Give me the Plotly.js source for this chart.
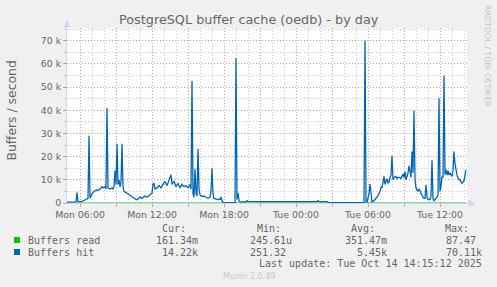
<!DOCTYPE html>
<html>
<head>
<meta charset="utf-8">
<script src="https://cdn.plot.ly/plotly-3.0.1.min.js"></script>
<style>
html,body{margin:0;padding:0;background:#F0F0F0;}
#chart{width:497px;height:287px;}
</style>
</head>
<body>
<div id="chart"></div>
<script>
// ---- data (5-minute samples) ----
const hitTimes = [
"2025-10-13 04:55","2025-10-13 05:10","2025-10-13 05:30","2025-10-13 05:40","2025-10-13 05:45","2025-10-13 05:50",
"2025-10-13 06:10","2025-10-13 06:20","2025-10-13 06:30","2025-10-13 06:40","2025-10-13 06:45","2025-10-13 06:50",
"2025-10-13 06:55","2025-10-13 07:00","2025-10-13 07:10","2025-10-13 07:20","2025-10-13 07:30","2025-10-13 07:40",
"2025-10-13 07:50","2025-10-13 07:55","2025-10-13 08:05","2025-10-13 08:10","2025-10-13 08:15","2025-10-13 08:20",
"2025-10-13 08:30","2025-10-13 08:40","2025-10-13 08:45","2025-10-13 08:50","2025-10-13 08:55","2025-10-13 09:00",
"2025-10-13 09:05","2025-10-13 09:10","2025-10-13 09:15","2025-10-13 09:20","2025-10-13 09:25","2025-10-13 09:30",
"2025-10-13 09:35","2025-10-13 09:40","2025-10-13 09:50","2025-10-13 10:00","2025-10-13 10:10","2025-10-13 10:20",
"2025-10-13 10:30","2025-10-13 10:40","2025-10-13 10:45","2025-10-13 10:55","2025-10-13 11:00","2025-10-13 11:10",
"2025-10-13 11:20","2025-10-13 11:25","2025-10-13 11:35","2025-10-13 11:40","2025-10-13 11:50","2025-10-13 12:00",
"2025-10-13 12:05","2025-10-13 12:10","2025-10-13 12:15","2025-10-13 12:25","2025-10-13 12:35","2025-10-13 12:45",
"2025-10-13 12:55","2025-10-13 13:05","2025-10-13 13:15","2025-10-13 13:25","2025-10-13 13:35","2025-10-13 13:40",
"2025-10-13 13:50","2025-10-13 14:00","2025-10-13 14:10","2025-10-13 14:20","2025-10-13 14:30","2025-10-13 14:40",
"2025-10-13 14:50","2025-10-13 15:00","2025-10-13 15:10","2025-10-13 15:15","2025-10-13 15:20","2025-10-13 15:25",
"2025-10-13 15:30","2025-10-13 15:35","2025-10-13 15:40","2025-10-13 15:45","2025-10-13 15:50","2025-10-13 15:55",
"2025-10-13 16:00","2025-10-13 16:10","2025-10-13 16:20","2025-10-13 16:30","2025-10-13 16:40","2025-10-13 16:50",
"2025-10-13 16:55","2025-10-13 17:00","2025-10-13 17:05","2025-10-13 17:10","2025-10-13 17:20","2025-10-13 17:30",
"2025-10-13 17:40","2025-10-13 17:45","2025-10-13 17:50","2025-10-13 17:55","2025-10-13 18:10","2025-10-13 18:30",
"2025-10-13 18:50","2025-10-13 18:55","2025-10-13 19:00","2025-10-13 19:05","2025-10-13 19:10","2025-10-13 19:15",
"2025-10-13 19:20","2025-10-13 19:40","2025-10-13 19:50","2025-10-13 19:55","2025-10-13 20:00","2025-10-13 21:00",
"2025-10-13 22:40","2025-10-14 00:20","2025-10-14 01:45","2025-10-14 01:50","2025-10-14 01:55","2025-10-14 02:35",
"2025-10-14 02:40","2025-10-14 03:40","2025-10-14 04:55","2025-10-14 05:40","2025-10-14 05:45","2025-10-14 05:50",
"2025-10-14 05:55","2025-10-14 06:05","2025-10-14 06:10","2025-10-14 06:15","2025-10-14 06:20","2025-10-14 06:30",
"2025-10-14 06:35","2025-10-14 06:45","2025-10-14 06:50","2025-10-14 07:00","2025-10-14 07:05","2025-10-14 07:10",
"2025-10-14 07:15","2025-10-14 07:20","2025-10-14 07:25","2025-10-14 07:30","2025-10-14 07:35","2025-10-14 07:40",
"2025-10-14 07:45","2025-10-14 07:50","2025-10-14 07:55","2025-10-14 08:00","2025-10-14 08:05","2025-10-14 08:10",
"2025-10-14 08:20","2025-10-14 08:25","2025-10-14 08:30","2025-10-14 08:40","2025-10-14 08:45","2025-10-14 08:50",
"2025-10-14 08:55","2025-10-14 09:00","2025-10-14 09:05","2025-10-14 09:10","2025-10-14 09:20","2025-10-14 09:25",
"2025-10-14 09:30","2025-10-14 09:35","2025-10-14 09:40","2025-10-14 09:45","2025-10-14 09:50","2025-10-14 09:55",
"2025-10-14 10:00","2025-10-14 10:05","2025-10-14 10:10","2025-10-14 10:15","2025-10-14 10:20","2025-10-14 10:25",
"2025-10-14 10:30","2025-10-14 10:35","2025-10-14 10:40","2025-10-14 10:45","2025-10-14 10:50","2025-10-14 10:55",
"2025-10-14 11:00","2025-10-14 11:10","2025-10-14 11:15","2025-10-14 11:20","2025-10-14 11:25","2025-10-14 11:30",
"2025-10-14 11:35","2025-10-14 11:40","2025-10-14 11:45","2025-10-14 11:50","2025-10-14 11:55","2025-10-14 12:00",
"2025-10-14 12:05","2025-10-14 12:10","2025-10-14 12:15","2025-10-14 12:20","2025-10-14 12:25","2025-10-14 12:30",
"2025-10-14 12:35","2025-10-14 12:40","2025-10-14 12:45","2025-10-14 12:50","2025-10-14 12:55","2025-10-14 13:00",
"2025-10-14 13:05","2025-10-14 13:10","2025-10-14 13:15","2025-10-14 13:20","2025-10-14 13:25","2025-10-14 13:30",
"2025-10-14 13:35","2025-10-14 13:40","2025-10-14 13:45","2025-10-14 13:50","2025-10-14 13:55","2025-10-14 14:00",
"2025-10-14 14:05","2025-10-14 14:10"
];
const hitValues = [
400,400,400,500,4500,600,
700,1000,1500,2000,29000,2000,
3000,4000,5000,5500,5500,6000,
7000,6500,7000,6000,41000,6500,
6000,6500,6000,7000,14000,8000,
25500,8000,10000,7000,9000,25500,
7000,5000,4500,4000,3500,3000,
2200,1500,1400,2200,2600,2000,
2600,3000,2500,2800,3500,4200,
8200,8600,6000,6500,7500,6500,
8000,9300,7500,10000,12200,8000,
9500,7000,8500,6500,8000,7000,
7500,6500,8000,6000,52700,4000,
2500,14800,4400,3000,23400,6000,
3500,2800,3000,2500,2000,2500,
5000,15000,4000,2000,1600,1500,
1600,2600,1000,300,200,200,
200,300,62500,1500,4300,1000,
500,400,500,1000,700,600,
600,600,600,1100,600,600,
200,200,200,300,70100,600,
400,4000,8200,3000,500,1000,
1500,2500,3200,5000,7000,6500,
8500,11500,8000,9000,10500,8500,
9000,11000,12000,20400,10000,11000,
11500,10500,11000,11000,10500,11500,
12500,11000,13600,10000,13000,16000,
13000,11000,22200,13000,39800,10000,
6500,5500,5000,6000,5500,4000,
3500,2500,2000,2000,7900,2500,
1500,1500,3000,18400,2000,1000,
1500,2000,2500,3500,45200,5000,
7000,11500,11000,55000,12200,14500,
12000,14000,12000,13000,12000,11500,
14000,22200,17000,13000,12000,11000,
10000,10000,9000,8500,9000,9500,
12000,14220
];
const readTimes = ["2025-10-13 04:55","2025-10-13 09:00","2025-10-13 15:20","2025-10-13 19:00","2025-10-14 05:45","2025-10-14 09:50","2025-10-14 14:10"];
const readValues = [0.3, 0.5, 87.47, 0.2, 0.4, 0.3, 0.16];

const xTickVals = ["2025-10-13 06:00","2025-10-13 09:00","2025-10-13 12:00","2025-10-13 15:00","2025-10-13 18:00","2025-10-13 21:00",
                   "2025-10-14 00:00","2025-10-14 03:00","2025-10-14 06:00","2025-10-14 09:00","2025-10-14 12:00"];
const xTickText = ["Mon 06:00","","Mon 12:00","","Mon 18:00","","Tue 00:00","","Tue 06:00","","Tue 12:00"];
const yTickVals = [0,10000,20000,30000,40000,50000,60000,70000];
const yTickText = ["0","10 k","20 k","30 k","40 k","50 k","60 k","70 k"];

const seriesNames = ["Buffers read","Buffers hit"];
const seriesColors = ["#00CC00","#0066B3"];
const statHeaders = ["Cur:","Min:","Avg:","Max:"];
const statRead = ["161.34m","245.61u","351.47m","87.47"];
const statHit = ["14.22k","251.32","5.45k","70.11k"];
const title = "PostgreSQL buffer cache (oedb) - by day";
const yTitle = "Buffers / second";
const lastUpdate = "Last update: Tue Oct 14 14:15:12 2025";

// ---- layout helpers (pixel -> paper) ----
const L = 67, T = 28, W = 400, H = 175;
const px = x => (x - L) / W;
const py = y => (T + H - y) / H;

const FONT = "DejaVu Sans, sans-serif";
const MONO = "DejaVu Sans Mono, monospace";
const TXT = "#666666";
const AXC = "#CFD6F8";

const ann = [];
function text(t, x, y, opts) {
  ann.push(Object.assign({text: t, xref: "paper", yref: "paper", x: px(x), y: py(y),
    showarrow: false, borderpad: 0, xanchor: "left", yanchor: "middle",
    font: {family: MONO, size: 10, color: TXT}}, opts || {}));
}
text(title, 248.5, 19, {xanchor: "center", font: {family: FONT, size: 12.8, color: TXT}});
text(yTitle, 11.5, 110, {xanchor: "center", textangle: -90, font: {family: FONT, size: 12.4, color: TXT}});
text("RRDTOOL / TOBI OETIKER", 488, 56, {xanchor: "center", textangle: 90, font: {family: FONT, size: 7.9, color: "#c4c4c4"}});
const headerRight = [187, 282, 376, 470];
const readRight = [199, 293, 388, 476.7];
const hitRight = [199, 287, 388, 482.7];
statHeaders.forEach((h, i) => text(h, headerRight[i], 228, {xanchor: "right"}));
statRead.forEach((v, i) => text(v, readRight[i], 240, {xanchor: "right"}));
statHit.forEach((v, i) => text(v, hitRight[i], 252, {xanchor: "right"}));
text(seriesNames[0], 26.5, 240);
text(seriesNames[1], 26.5, 252);
text(lastUpdate, 482.7, 263.5, {xanchor: "right"});
text("Munin 2.0.49", 249, 276, {xanchor: "center", font: {family: FONT, size: 8, color: "#c8c8c8"}});

const shapes = [];
function rectPx(x0, y0, x1, y1, color) {
  shapes.push({type: "rect", xref: "paper", yref: "paper", x0: px(x0), x1: px(x1), y0: py(y0), y1: py(y1),
    fillcolor: color, line: {width: 0}});
}
rectPx(14, 237, 20, 243, seriesColors[0]);
rectPx(14, 249, 20, 255, seriesColors[1]);
function pathPx(pts, fill, lineColor) {
  const d = pts.map((p, i) => (i ? "L" : "M") + px(p[0]) + "," + py(p[1])).join(" ") + (fill ? " Z" : "");
  shapes.push({type: "path", xref: "paper", yref: "paper", path: d,
    fillcolor: fill || "rgba(0,0,0,0)", line: {color: lineColor || fill, width: 1}});
}
// axis extensions and arrows
pathPx([[67, 28], [67, 25]], null, AXC);
pathPx([[467, 203.5], [470, 203.5]], null, AXC);
pathPx([[64.5, 27], [69.5, 27], [67, 21]], AXC);
pathPx([[469, 200.5], [469, 206.5], [475, 203.5]], AXC);

const data = [
  {type: "scatter", mode: "lines", x: readTimes, y: readValues, name: seriesNames[0],
   line: {color: seriesColors[0], width: 1.2}, hoverinfo: "skip"},
  {type: "scatter", mode: "lines", x: hitTimes, y: hitValues, name: seriesNames[1],
   line: {color: seriesColors[1], width: 1.3}, hoverinfo: "skip"}
];

const layout = {
  width: 497, height: 287,
  margin: {l: L, r: 497 - L - W, t: T, b: 287 - T - H, pad: 0},
  paper_bgcolor: "#F0F0F0", plot_bgcolor: "#FFFFFF",
  showlegend: false,
  font: {family: FONT, color: TXT},
  xaxis: {
    type: "date", range: ["2025-10-13 04:55", "2025-10-14 14:15"],
    tickmode: "array", tickvals: xTickVals, ticktext: xTickText,
    tickfont: {family: FONT, size: 9.4, color: TXT},
    ticks: "outside", ticklen: 3, tickcolor: "rgba(230,80,80,0.6)", tickwidth: 1,
    showgrid: true, gridcolor: "rgba(225,80,80,0.42)", griddash: "1px,2px", gridwidth: 1,
    minor: {dtick: 3600000, tick0: "2025-10-13 00:00", showgrid: true, gridcolor: "#cacaca", griddash: "1px,2px", ticks: ""},
    showline: true, linecolor: AXC, linewidth: 1, zeroline: false, fixedrange: true
  },
  yaxis: {
    range: [0, 75480],
    tickmode: "array", tickvals: yTickVals, ticktext: yTickText,
    tickfont: {family: FONT, size: 9.4, color: TXT},
    ticks: "outside", ticklen: 3, tickcolor: "rgba(230,80,80,0.6)", tickwidth: 1,
    showgrid: true, gridcolor: "rgba(225,80,80,0.42)", griddash: "1px,2px", gridwidth: 1,
    minor: {dtick: 5000, showgrid: true, gridcolor: "#cacaca", griddash: "1px,2px", ticks: "outside", ticklen: 2, tickcolor: "#c8c8c8"},
    showline: true, linecolor: AXC, linewidth: 1, zeroline: false, fixedrange: true
  },
  annotations: ann,
  shapes: shapes
};

Plotly.newPlot("chart", data, layout, {staticPlot: true, displayModeBar: false});
</script>
</body>
</html>
